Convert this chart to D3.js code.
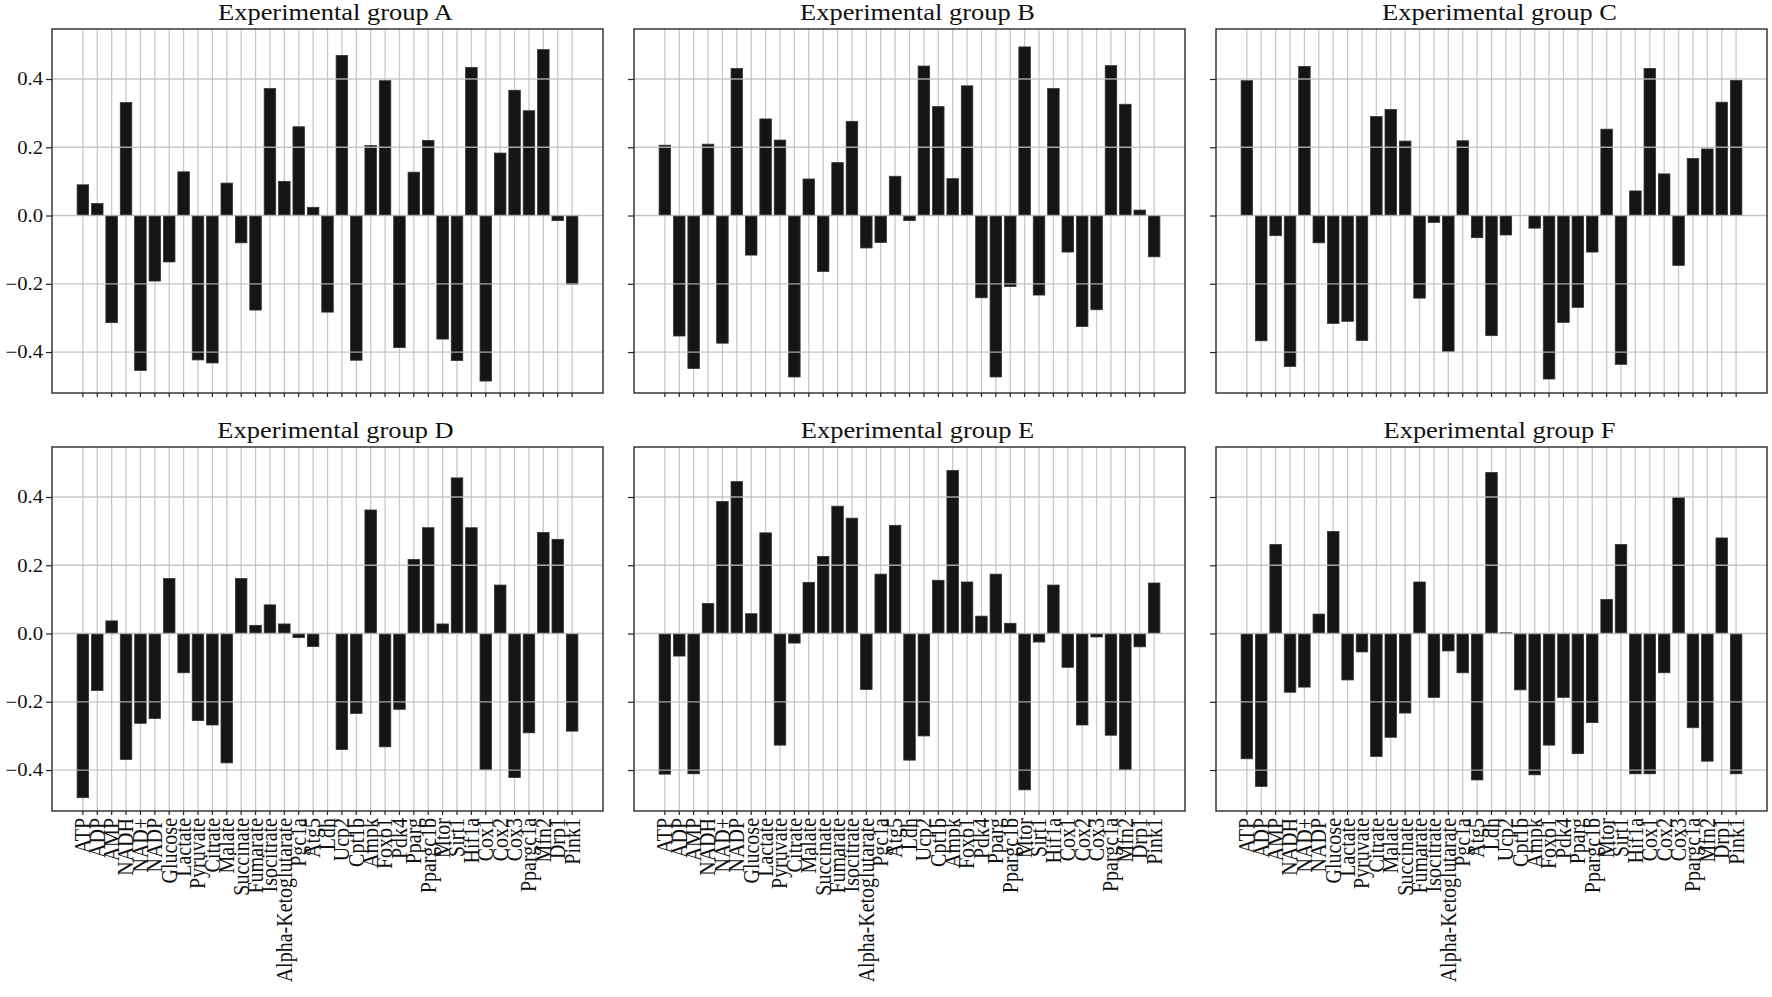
<!DOCTYPE html>
<html>
<head>
<meta charset="utf-8">
<script src="https://cdn.jsdelivr.net/npm/d3@7"></script>
<style>
  body { margin: 0; background: #fff; }
  text { font-family: "Liberation Serif", "DejaVu Serif", serif; fill: #111; }
</style>
</head>
<body>
<script>
// categories on the shared x axis
const categories = ["ATP", "ADP", "AMP", "NADH", "NAD+", "NADP", "Glucose", "Lactate", "Pyruvate", "Citrate",
    "Malate", "Succinate", "Fumarate", "Isocitrate", "Alpha-Ketoglutarate", "Pgc1a", "Atg5", "Ldh", "Ucp2", "Cpt1b",
    "Ampk", "Foxo1", "Pdk4", "Pparg", "Ppargc1b", "Mtor", "Sirt1", "Hif1a", "Cox1", "Cox2",
    "Cox3", "Ppargc1a", "Mfn2", "Drp1", "Pink1"];

const groupTitles = ["Experimental group A", "Experimental group B", "Experimental group C",
    "Experimental group D", "Experimental group E", "Experimental group F"];

// values, one per category
const groupA = [0.090, 0.035, -0.314, 0.331, -0.454, -0.192, -0.136, 0.128, -0.423, -0.432,
    0.095, -0.080, -0.277, 0.372, 0.100, 0.260, 0.024, -0.283, 0.469, -0.424,
    0.205, 0.395, -0.387, 0.127, 0.220, -0.362, -0.425, 0.434, -0.485, 0.183,
    0.367, 0.307, 0.486, -0.015, -0.201];
const groupB = [0.206, -0.353, -0.448, 0.209, -0.374, 0.431, -0.116, 0.283, 0.221, -0.473,
    0.107, -0.164, 0.155, 0.276, -0.095, -0.079, 0.115, -0.015, 0.438, 0.319,
    0.108, 0.380, -0.241, -0.473, -0.208, 0.494, -0.233, 0.372, -0.107, -0.325,
    -0.276, 0.439, 0.326, 0.016, -0.121];
const groupC = [0.395, -0.367, -0.059, -0.442, 0.437, -0.080, -0.316, -0.310, -0.366, 0.290,
    0.311, 0.218, -0.242, -0.020, -0.398, 0.219, -0.065, -0.352, -0.057, 0.000,
    -0.037, -0.479, -0.313, -0.269, -0.107, 0.253, -0.436, 0.072, 0.431, 0.122,
    -0.146, 0.167, 0.195, 0.332, 0.396];
const groupD = [-0.481, -0.167, 0.037, -0.369, -0.263, -0.249, 0.161, -0.115, -0.255, -0.268,
    -0.379, 0.161, 0.024, 0.084, 0.028, -0.012, -0.038, 0.000, -0.340, -0.234,
    0.362, -0.332, -0.222, 0.217, 0.310, 0.028, 0.456, 0.310, -0.399, 0.142,
    -0.422, -0.291, 0.296, 0.276, -0.286];
const groupE = [-0.412, -0.066, -0.411, 0.088, 0.387, 0.445, 0.058, 0.295, -0.327, -0.028,
    0.150, 0.226, 0.373, 0.338, -0.164, 0.174, 0.317, -0.371, -0.300, 0.156,
    0.478, 0.151, 0.051, 0.174, 0.030, -0.458, -0.025, 0.142, -0.099, -0.268,
    -0.010, -0.298, -0.399, -0.039, 0.148];
const groupF = [-0.367, -0.448, 0.261, -0.172, -0.157, 0.057, 0.299, -0.136, -0.054, -0.360,
    -0.304, -0.233, 0.151, -0.187, -0.051, -0.115, -0.429, 0.472, 0.002, -0.165,
    -0.414, -0.327, -0.187, -0.352, -0.261, 0.100, 0.261, -0.411, -0.411, -0.115,
    0.399, -0.276, -0.374, 0.280, -0.411];

const yTickValues = [-0.4, -0.2, 0.0, 0.2, 0.4];
const yDomain = [-0.52, 0.5465];

const allGroups = [groupA, groupB, groupC, groupD, groupE, groupF];

const width = 1772, height = 997;
const panel_width = 551, panel_height = 364;
const panel_left = 52, panel_top = 29;
const gap_x = 31, gap_y = 54;
// the source picture is a little wider than tall, so text gets a horizontal stretch
const stretch = 1.15;

let svg = d3.select("body")
    .append("svg")
    .attr("width", width)
    .attr("height", height);

// shared scales (sharex / sharey)
let x = d3.scaleBand()
    .domain(categories)
    .range([0, panel_width])
    .paddingInner(0.2)
    .paddingOuter(1.745);

let y = d3.scaleLinear()
    .domain(yDomain)
    .range([panel_height, 0]);

allGroups.forEach(function (values, i) {
    let col = i % 3, row = Math.floor(i / 3);
    let g = svg.append("g")
        .attr("transform", `translate(${panel_left + col * (panel_width + gap_x)}, ${panel_top + row * (panel_height + gap_y)})`);

    //vertical grid, behind the bars
    g.append("g")
        .selectAll("line")
        .data(categories)
        .enter()
        .append("line")
        .attr("x1", (d) => x(d) + x.bandwidth() / 2)
        .attr("x2", (d) => x(d) + x.bandwidth() / 2)
        .attr("y1", 0)
        .attr("y2", panel_height)
        .style("stroke", "#c9c9c9")
        .style("stroke-width", 1.3);

    //bars
    g.append("g")
        .selectAll("rect")
        .data(values)
        .enter()
        .append("rect")
        .attr("x", (d, j) => x(categories[j]))
        .attr("width", x.bandwidth())
        .attr("y", (d) => y(Math.max(0, d)))
        .attr("height", (d) => Math.abs(y(d) - y(0)))
        .attr("fill", "#151515")
        .style("stroke", "#333")
        .style("stroke-width", 0.8);

    //horizontal grid, drawn over the bars
    g.append("g")
        .selectAll("line")
        .data(yTickValues)
        .enter()
        .append("line")
        .attr("x1", 0)
        .attr("x2", panel_width)
        .attr("y1", (d) => y(d))
        .attr("y2", (d) => y(d))
        .style("stroke", "#bdbdbd")
        .style("stroke-opacity", 0.85)
        .style("stroke-width", 1.3);

    //y axis ticks, labels only on the left column
    let yAxis = g.append("g")
        .call(d3.axisLeft(y)
            .tickValues(yTickValues)
            .tickSize(6)
            .tickPadding(3)
            .tickFormat((d) => col === 0 ? d3.format(".1f")(d).replace("-", "\u2212") : ""));
    yAxis.select(".domain").remove();
    yAxis.selectAll("line").style("stroke", "#222").style("stroke-width", 1.2);
    yAxis.selectAll("text")
        .style("font-family", "Liberation Serif, serif")
        .style("font-size", "18px")
        .attr("fill", "#111")
        .attr("x", 0)
        .attr("transform", `translate(-9, 0) scale(${stretch}, 1)`);

    //x axis ticks, labels only on the bottom row
    let xAxis = g.append("g")
        .attr("transform", `translate(0, ${panel_height})`)
        .call(d3.axisBottom(x).tickSize(4).tickPadding(5).tickFormat((d) => row === 1 ? d : ""));
    xAxis.select(".domain").remove();
    xAxis.selectAll("line").style("stroke", "#222").style("stroke-width", 1.2);
    xAxis.selectAll("text")
        .style("font-family", "Liberation Serif, serif")
        .style("font-size", "20px")
        .attr("fill", "#111")
        .attr("text-anchor", "end")
        .attr("transform", `scale(${stretch}, 1) rotate(-90)`)
        .attr("x", -7)
        .attr("y", 0)
        .attr("dy", "0.32em");

    //frame
    g.append("rect")
        .attr("width", panel_width)
        .attr("height", panel_height)
        .attr("fill", "none")
        .style("stroke", "#2a2a2a")
        .style("stroke-width", 1.4);

    //title
    g.append("text")
        .attr("transform", `translate(${panel_width / 2 + 8}, -9) scale(${stretch}, 1)`)
        .style("text-anchor", "middle")
        .style("font-size", "23px")
        .text(groupTitles[i]);
});
</script>
</body>
</html>
